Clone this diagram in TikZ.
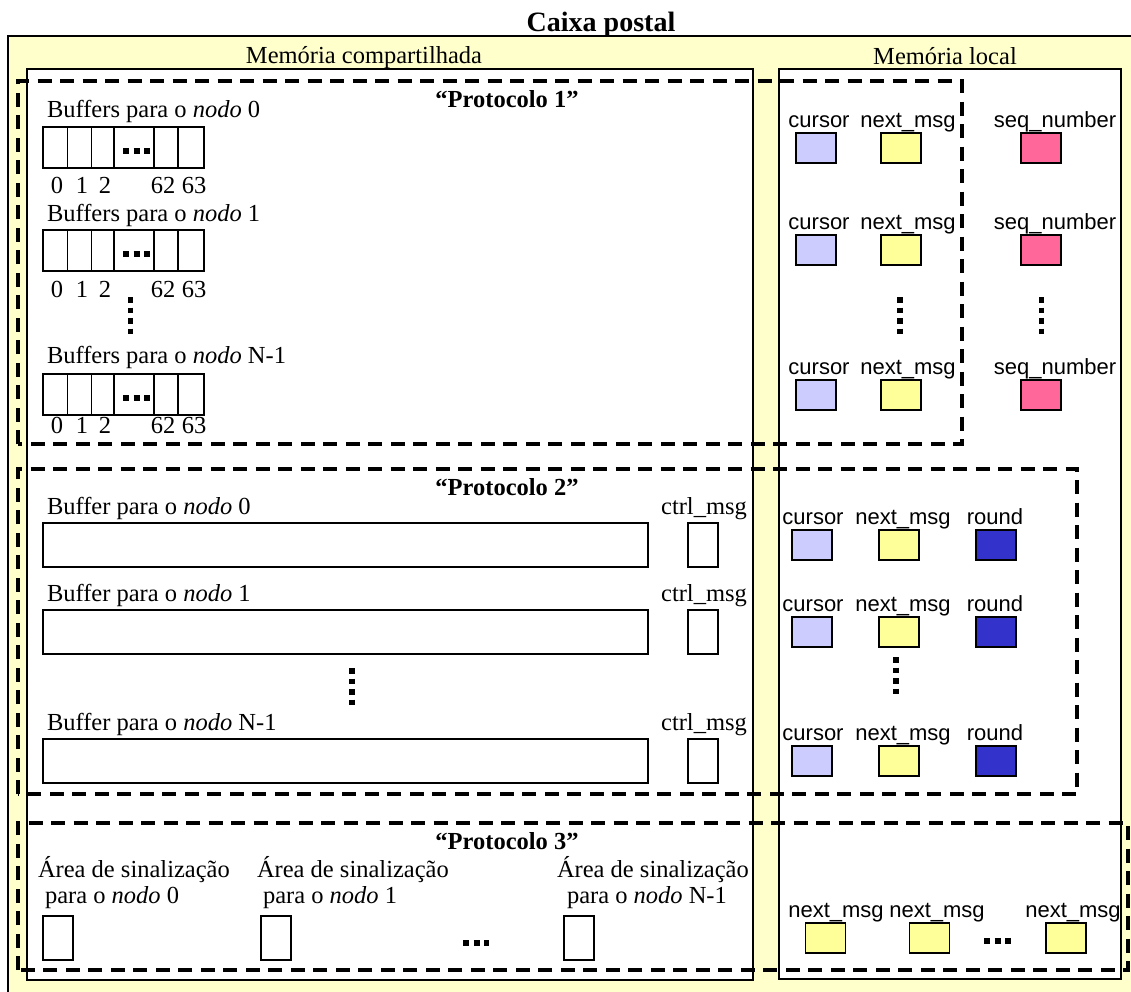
\documentclass[tikz,border=0pt]{standalone}
\usepackage{fontspec}
\setmainfont{Liberation Serif}
\newfontfamily\arialfont{Liberation Sans}
\usepackage{xcolor}
\usetikzlibrary{positioning, calc}
\definecolor{caixa}{HTML}{FFFFCC}
\definecolor{cursorcol}{HTML}{CCCCFF}
\definecolor{nextcol}{HTML}{FFFF99}
\definecolor{seqcol}{HTML}{FF6699}
\definecolor{roundcol}{HTML}{3333CC}

\begin{document}
\begin{tikzpicture}[x=1pt, y=-1pt,
    every node/.style={inner sep=0pt, outer sep=0pt},
    serif/.style={font=\fontsize{24.5}{28}\selectfont},
    sans/.style={font=\arialfont\fontsize{22}{26}\selectfont},
    negrito/.style={font=\fontsize{24.5}{28}\selectfont\bfseries},
    titulo/.style={font=\fontsize{28}{32}\selectfont\bfseries},
    region/.style={draw, fill=white, line width=1.4pt},
    var/.style={draw, line width=1.3pt, minimum width=40pt, minimum height=30pt},
    cell/.style={draw, line width=1.1pt, minimum width=161pt, minimum height=41pt},
    flag/.style={draw, line width=1.1pt, minimum width=30pt, minimum height=44pt},
    area/.style={draw, line width=1.1pt, minimum width=605pt, minimum height=44pt},
    proto/.style={line width=3.5pt, dash pattern=on 14pt off 8.5pt},
    vdots/.style={line width=5.5pt, dash pattern=on 5.5pt off 5pt},
    hdots/.style={line width=6pt, dash pattern=on 6pt off 4.5pt}]
  \clip (0,0) rectangle (1131,991);
  \draw[fill=caixa, line width=2.2pt] (8,36) rectangle (1160,1010);
  \node[titulo, anchor=base] (caixa) at (601,31) {Caixa postal};
  \node[serif, anchor=base] (lshared) at (364,63) {Memória compartilhada};
  \node[serif, anchor=base] (llocal) at (945,64) {Memória local};
  \node[region, anchor=north west, minimum width=726pt, minimum height=911pt] (shared) at (27,69) {};
  \node[region, anchor=north west, minimum width=342pt, minimum height=910pt] (local) at (779,69) {};

  \draw[proto] (18,444) -- (18,81) -- (962,81) -- (962,444) -- cycle;
  \draw[proto] (18,794) -- (18,469) -- (1077,469) -- (1077,794) -- cycle;
  \draw[proto] (18,970) -- (18,823) -- (1128,823) -- (1128,970) -- cycle;
  \node[negrito, anchor=base] (p1) at (507,107) {“Protocolo 1”};
  \node[negrito, anchor=base] (p2) at (507,495) {“Protocolo 2”};
  \node[negrito, anchor=base] (p3) at (507,849) {“Protocolo 3”};

  \foreach \n/\t/\yl/\yn [count=\i] in {0/127/117/193, 1/230/221/297, N-1/374/363/433} {
    \node[serif, anchor=base west] (lbuf\i) at (47,\yl) {Buffers para o \textit{nodo} \n};
    \node[cell, anchor=north west] (buf\i) at (43,\t) {};
    \foreach \d in {67.5,91.5,114,154,178}
      \draw[line width=1.1pt] (\d,\t) -- (\d,\t+41);
    \draw[hdots] (123,\t+24) -- (151,\t+24);
    \foreach \k/\xk in {0/57,1/82,2/105,62/163,63/194}
      \node[serif, anchor=base] (n\i-\k) at (\xk,\yn) {\k};
  }
  \draw[vdots] (130.5,297) -- (130.5,335);

  \foreach \yb [count=\i] in {148,250,395} {
    \node[var, fill=cursorcol] (cur\i) at (816,\yb) {};
    \node[var, fill=nextcol] (nxt\i) at (901,\yb) {};
    \node[var, fill=seqcol] (seq\i) at (1041,\yb) {};
    \node[sans, anchor=base] (lcur\i) at (819,\yb-21) {cursor};
    \node[sans, anchor=base] (lnxt\i) at (908,\yb-21) {next\_msg};
    \node[sans, anchor=base] (lseq\i) at (1055,\yb-21) {seq\_number};
  }
  \draw[vdots] (900,297) -- (900,335);
  \draw[vdots] (1041.5,297) -- (1041.5,335);

  \foreach \n/\t [count=\i] in {0/523, 1/610, N-1/739} {
    \node[serif, anchor=base west] (lbp\i) at (47,\t-9) {Buffer para o \textit{nodo} \n};
    \node[area, anchor=north west] (bp\i) at (43,\t) {};
    \node[serif, anchor=base] (lctrl\i) at (704,\t-9) {ctrl\_msg};
    \node[flag, anchor=north] (ctrl\i) at (703,\t) {};
  }
  \draw[vdots] (352,668) -- (352,706);

  \foreach \yb [count=\i] in {545,632,761} {
    \node[var, fill=cursorcol] (cr\i) at (812,\yb) {};
    \node[var, fill=nextcol] (nx\i) at (899,\yb) {};
    \node[var, fill=roundcol] (rd\i) at (996,\yb) {};
    \node[sans, anchor=base] (lcr\i) at (813,\yb-21) {cursor};
    \node[sans, anchor=base] (lnx\i) at (903,\yb-21) {next\_msg};
    \node[sans, anchor=base] (lrd\i) at (995,\yb-21) {round};
  }
  \draw[vdots] (896,657) -- (896,695);

  \foreach \n/\xa/\xp/\xb [count=\i] in {0/38/45/58, 1/257/263/276, N-1/557/567/579} {
    \node[serif, anchor=base west] (lar\i) at (\xa,877) {Área de sinalização};
    \node[serif, anchor=base west] (lpa\i) at (\xp,903) {para o \textit{nodo} \n};
    \node[flag] (sin\i) at (\xb,938) {};
  }
  \draw[hdots] (463,943) -- (489,943);

  \foreach \xb/\xl [count=\i] in {825.5/836, 929.5/937, 1066/1073} {
    \node[var, fill=nextcol] (nm\i) at (\xb,938) {};
    \node[sans, anchor=base] (lnm\i) at (\xl,917) {next\_msg};
  }
  \draw[hdots] (984,941) -- (1012,941);
\end{tikzpicture}
\end{document}
